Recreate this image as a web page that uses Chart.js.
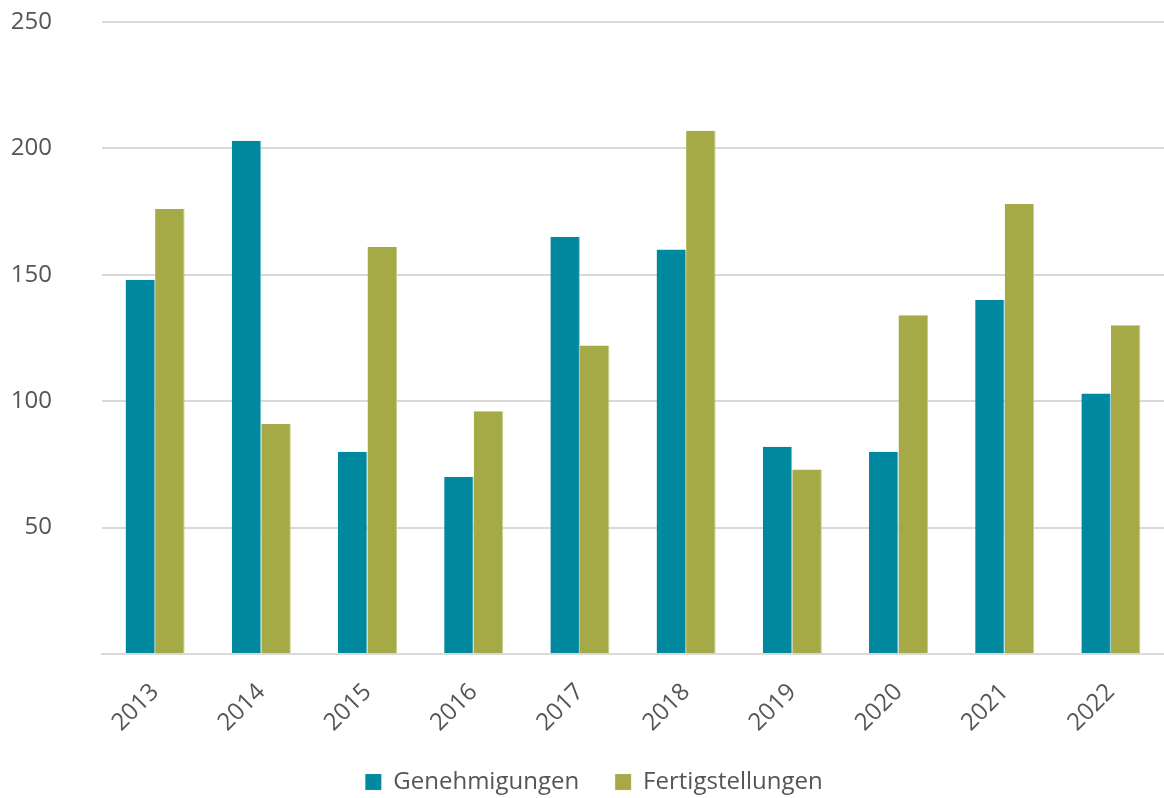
<!DOCTYPE html>
<html><head><meta charset="utf-8">
<script src="https://cdn.jsdelivr.net/npm/chart.js@4"></script>
<style>html,body{margin:0;padding:0;background:#fff}#wrap{width:1164px;height:798px}</style>
</head><body><div id="wrap"><canvas id="c" width="1164" height="798"></canvas></div>
<script>
const categories = ['2013','2014','2015','2016','2017','2018','2019','2020','2021','2022'];
const genehmigungen = [148,203,80,70,165,160,82,80,140,103];
const fertigstellungen = [176,91,161,96,122,207,73,134,178,130];
const yTicks = [0,50,100,150,200,250];

const FONT = '"Open Sans", "Noto Sans", sans-serif';
const legendShift = {
  id:'legendShift',
  afterLayout(chart){
    const l = chart.legend;
    if (!l) return;
    l.top += 6; l.bottom += 6;
    l.left += 24;
  }
};
new Chart(document.getElementById('c'), {
  type: 'bar',
  data: {
    labels: categories,
    datasets: [
      {label:'Genehmigungen', data: genehmigungen, backgroundColor:'#00889e', borderColor:'#7fc3ce', borderWidth:{right:1,left:0,top:0,bottom:0}},
      {label:'Fertigstellungen', data: fertigstellungen, backgroundColor:'#a5aa47', borderColor:'#c9cc8e', borderWidth:{right:1,left:0,top:0,bottom:0}}
    ]
  },
  plugins:[legendShift],
  options: {
    responsive:false, animation:false,
    layout:{padding:{left:0,right:0,top:22,bottom:0}},
    datasets:{bar:{categoryPercentage:0.556, barPercentage:1}},
    scales:{
      x:{
        afterFit(s){ s.height = 74; s.paddingTop = 0; s.paddingBottom = 0; s._computeLabelArea = function(){ return undefined; }; },
        grid:{display:false, drawTicks:false},
        border:{display:true,color:'#d9d9d9',width:2},
        ticks:{color:'#555555', font:{family:FONT,size:24}, maxRotation:45, minRotation:45, padding:24}
      },
      y:{
        min:0,max:250,
        afterFit(s){ s.width = 102; s.paddingTop = 0; s.paddingBottom = 0; },
        grid:{color:'#d9d9d9', lineWidth:2, drawTicks:false},
        border:{display:false},
        afterBuildTicks(s){ s.ticks = yTicks.map(v=>({value:v})); },
        ticks:{color:'#555555', font:{family:FONT,size:24}, padding:50,
          callback:(v)=> v===0 ? '' : String(v)}
      }
    },
    plugins:{
      legend:{position:'bottom', labels:{color:'#555555', font:{family:FONT,size:24}, boxWidth:16, boxHeight:16, padding:36}},
      tooltip:{enabled:false}
    }
  }
});
</script></body></html>
